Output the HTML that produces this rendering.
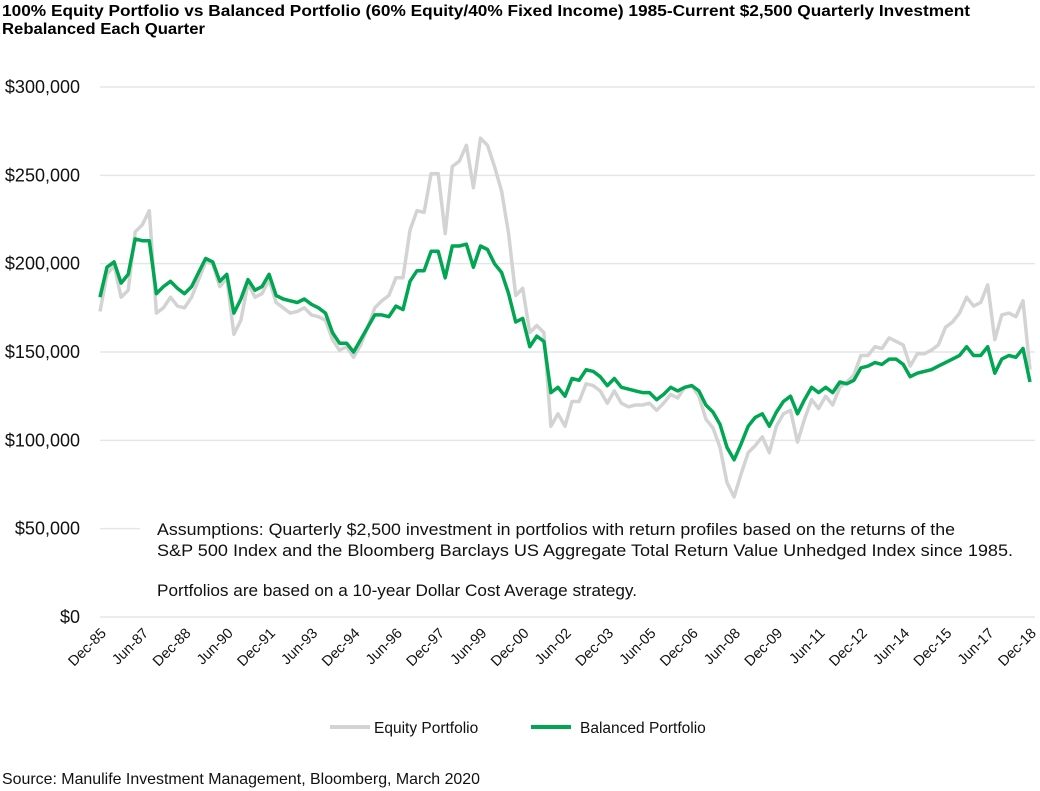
<!DOCTYPE html>
<html><head><meta charset="utf-8"><style>
body{margin:0;background:#fff;font-family:"Liberation Sans",sans-serif;}
svg{display:block}
</style></head><body>
<svg id="chart" width="1040" height="791" xmlns="http://www.w3.org/2000/svg" font-family="Liberation Sans, sans-serif">
<text x="2" y="16" font-size="16" font-weight="bold" fill="#000" textLength="968" lengthAdjust="spacingAndGlyphs">100% Equity Portfolio vs Balanced Portfolio (60% Equity/40% Fixed Income) 1985-Current $2,500 Quarterly Investment</text>
<text x="2" y="34" font-size="16" font-weight="bold" fill="#000" textLength="203" lengthAdjust="spacingAndGlyphs">Rebalanced Each Quarter</text>
<g id="grid"></g>
<g id="ylabels"></g>
<g id="xlabels"></g>
<g id="series"></g>
<rect x="140" y="514" width="895" height="94" fill="#fff"/>
<g font-size="16.5" fill="#111">
<text x="157" y="535" textLength="798" lengthAdjust="spacingAndGlyphs">Assumptions: Quarterly $2,500 investment in portfolios with return profiles based on the returns of the</text>
<text x="157" y="556" textLength="856" lengthAdjust="spacingAndGlyphs">S&amp;P 500 Index and the Bloomberg Barclays US Aggregate Total Return Value Unhedged Index since 1985.</text>
<text x="157" y="596" textLength="480" lengthAdjust="spacingAndGlyphs">Portfolios are based on a 10-year Dollar Cost Average strategy.</text>
</g>
<g>
<line x1="330" y1="727" x2="370" y2="727" stroke="#d3d3d3" stroke-width="4"/>
<text x="374" y="733" font-size="15.5" fill="#111">Equity Portfolio</text>
<line x1="531" y1="727" x2="571" y2="727" stroke="#00a651" stroke-width="4"/>
<text x="580" y="733" font-size="15.5" fill="#111">Balanced Portfolio</text>
</g>
<text x="2" y="784" font-size="16" fill="#111" textLength="478" lengthAdjust="spacingAndGlyphs">Source: Manulife Investment Management, Bloomberg, March 2020</text>
</svg>
<script>
const equity = [173,194,199,181,185,218,222,230,172,175,181,176,175,181,191,201,200,187,192,160,168,189,181,183,191,178,175,172,173,175,171,170,168,157,151,153,147,154,164,175,179,182,192,192,219,230,229,251,251,217,255,258,267,243,271,267,255,241,217,182,186,161,165,161,108,115,108,122,122,132,131,128,121,128,121,119,120,120,121,117,121,126,124,130,131,125,112,107,96,76,68,81,93,97,102,93,108,115,117,99,112,123,118,125,120,130,133,137,148,148,153,152,158,156,154,142,149,149,151,154,164,167,172,181,176,178,188,157,171,172,170,179,140];
const balanced = [181,198,201,189,194,214,213,213,183,187,190,186,183,187,195,203,201,190,194,172,180,191,185,187,194,182,180,179,178,180,177,175,172,161,155,155,150,157,164,171,171,170,176,174,190,196,196,207,207,192,210,210,211,198,210,208,200,195,183,167,169,153,159,156,127,130,125,135,134,140,139,136,131,135,130,129,128,127,127,123,126,130,128,130,131,128,120,116,109,96,89,98,108,113,115,108,116,122,125,115,123,130,127,130,127,133,132,134,141,142,144,143,146,146,143,136,138,139,140,142,144,146,148,153,148,148,153,138,146,148,147,152,133];
const yTicks = [0,50000,100000,150000,200000,250000,300000];
const yTickLabels = ["$0","$50,000","$100,000","$150,000","$200,000","$250,000","$300,000"];
const xTickLabels = ["Dec-85","Jun-87","Dec-88","Jun-90","Dec-91","Jun-93","Dec-94","Jun-96","Dec-97","Jun-99","Dec-00","Jun-02","Dec-03","Jun-05","Dec-06","Jun-08","Dec-09","Jun-11","Dec-12","Jun-14","Dec-15","Jun-17","Dec-18"];
const tickEvery = 6;

const NS="http://www.w3.org/2000/svg";
const X0=100,X1=1030,Y0=617,Y1=87;
const n=equity.length;
function xs(i){return X0+(X1-X0)*i/(n-1);}
function ys(v){return Y0-(Y0-Y1)*v/300000;}
const grid=document.getElementById('grid'), yl=document.getElementById('ylabels'), xl=document.getElementById('xlabels'), se=document.getElementById('series');
yTicks.forEach((t,k)=>{
  const l=document.createElementNS(NS,'line');
  l.setAttribute('x1',X0);l.setAttribute('x2',1035);l.setAttribute('y1',ys(t));l.setAttribute('y2',ys(t));
  l.setAttribute('stroke','#e6e6e6');l.setAttribute('stroke-width','1.5');
  
  
  grid.appendChild(l);
  const tx=document.createElementNS(NS,'text');
  tx.setAttribute('x',80);tx.setAttribute('y',ys(t)+6);tx.setAttribute('text-anchor','end');
  tx.setAttribute('font-size','18');tx.setAttribute('fill','#111');
  tx.textContent=yTickLabels[k];
  
  
  yl.appendChild(tx);
});
xTickLabels.forEach((lab,k)=>{
  const x=xs(k*tickEvery)+7, y=634;
  const tx=document.createElementNS(NS,'text');
  tx.setAttribute('x',x);tx.setAttribute('y',y);tx.setAttribute('text-anchor','end');
  tx.setAttribute('font-size','14.5');tx.setAttribute('fill','#111');
  tx.setAttribute('transform','rotate(-45 '+x+' '+y+')');
  tx.textContent=lab;
  
  
  xl.appendChild(tx);
});
function drawLine(arr,color,name){
  const p=document.createElementNS(NS,'polyline');
  p.setAttribute('points',arr.map((v,i)=>xs(i).toFixed(1)+','+ys(v*1000).toFixed(1)).join(' '));
  p.setAttribute('fill','none');p.setAttribute('stroke',color);p.setAttribute('stroke-width','3.5');
  p.setAttribute('stroke-linejoin','round');
  
  
  se.appendChild(p);
}
drawLine(equity,'#d3d3d3','equity-line');
drawLine(balanced,'#00a651','balanced-line');
</script>
</body></html>
